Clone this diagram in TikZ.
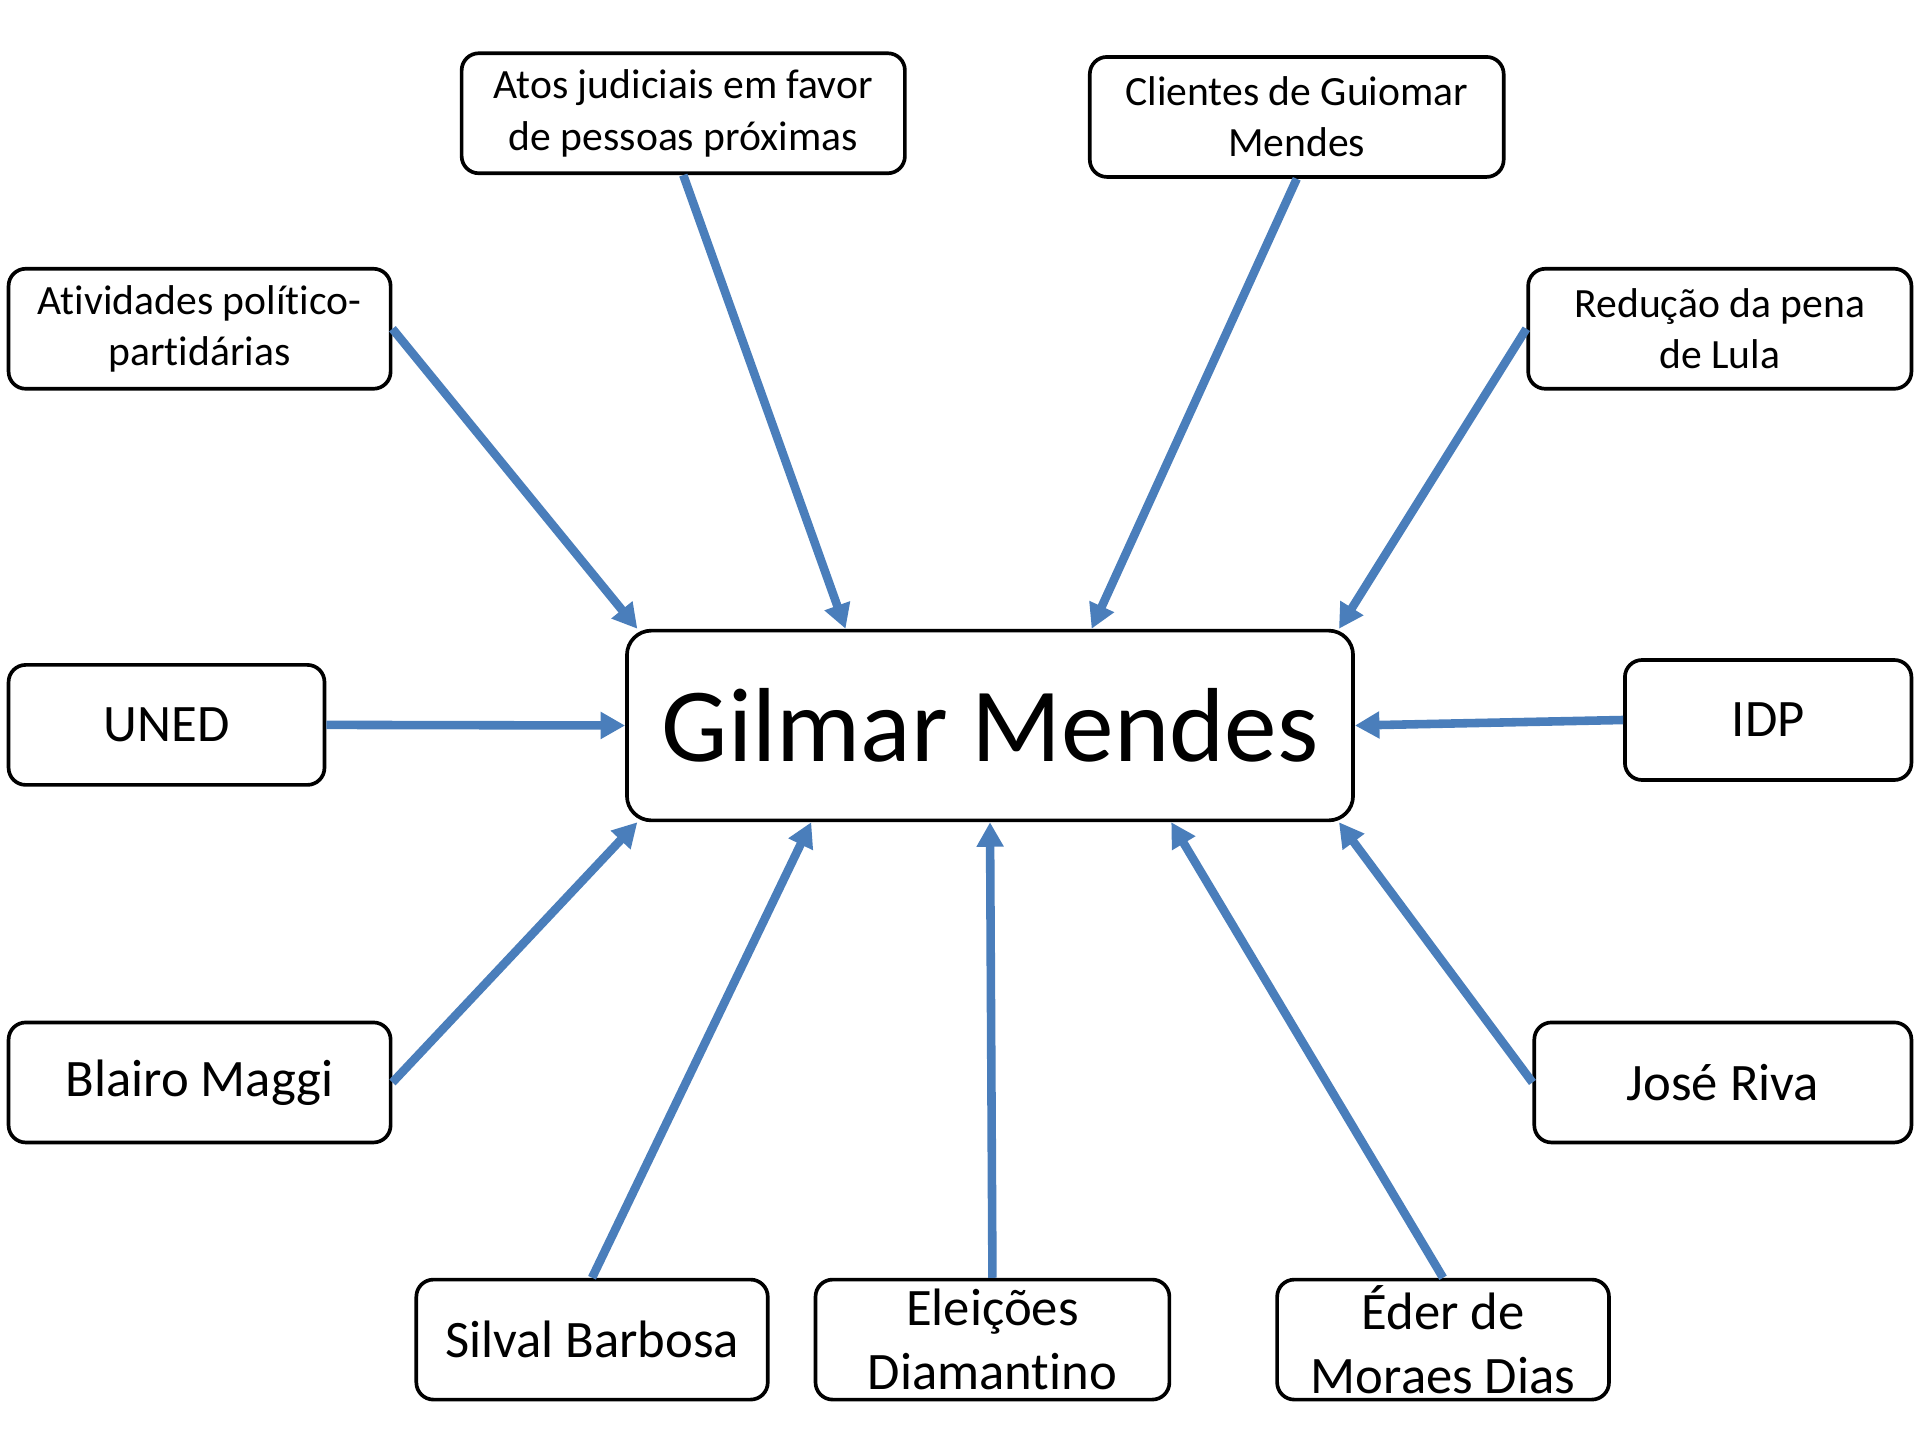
\documentclass[tikz,border=0pt]{standalone}
\usepackage{fontspec}
\setmainfont[Ligatures=NoCommon]{Carlito}
\usetikzlibrary{arrows.meta}
\definecolor{linkblue}{RGB}{74,126,187}
\begin{document}
\begin{tikzpicture}[x=0.5pt,y=-0.5pt,line join=round,
	box/.style={draw,line width=1.5pt,rounded corners=7pt,align=center,inner sep=2pt,minimum height=49pt,font=\fontsize{17}{21}\selectfont},
	bigbox/.style={box,font=\fontsize{21.5}{26}\selectfont},
	link/.style={draw=linkblue,line width=3.5pt,-{Triangle[length=10pt,width=10.5pt]}}]
	\useasboundingbox (0,0) rectangle (1568,1176);
	\node[box,minimum width=181pt] (atos) at (558,92.5) {Atos judiciais em favor\\de pessoas próximas};
	\node[box,minimum width=169pt] (clientes) at (1059,95.5) {Clientes de Guiomar\\Mendes};
	\node[box,minimum width=156pt] (ativ) at (163,268.5) {Atividades político-\\partidárias};
	\node[box,minimum width=156.5pt] (reducao) at (1404.5,268.5) {Redução da pena\\de Lula};
	\node[bigbox,minimum width=129pt] (uned) at (136,592) {UNED};
	\node[bigbox,minimum width=117pt] (idp) at (1444,588) {IDP};
	\node[bigbox,minimum width=156pt] (blairo) at (163,884) {Blairo Maggi};
	\node[bigbox,minimum width=154pt] (jose) at (1407,884) {José Riva};
	\node[bigbox,minimum width=143.5pt] (silval) at (483.5,1094) {Silval Barbosa};
	\node[bigbox,minimum width=144.5pt] (eleicoes) at (810.5,1094) {Eleições\\Diamantino};
	\node[bigbox,minimum width=135.5pt] (eder) at (1178.5,1094) {Éder de\\Moraes Dias};
	\node[box,minimum width=296.5pt,minimum height=77.5pt,rounded corners=10pt,font=\fontsize{43}{52}\selectfont] (gilmar) at (808.5,592.5) {Gilmar Mendes};
	\draw[link] (ativ.east) -- ([xshift=5pt]gilmar.north west);
	\draw[link] (atos.south) -- ([xshift=90pt]gilmar.north west);
	\draw[link] (clientes.south) -- ([xshift=190.5pt]gilmar.north west);
	\draw[link] (reducao.west) -- ([xshift=-6.5pt]gilmar.north east);
	\draw[link] (uned.east) -- (gilmar.west);
	\draw[link] (idp.west) -- (gilmar.east);
	\draw[link] (blairo.east) -- ([xshift=5pt]gilmar.south west);
	\draw[link] (silval.north) -- ([xshift=76pt]gilmar.south west);
	\draw[link] (eleicoes.north) -- (gilmar.south);
	\draw[link] (eder.north) -- ([xshift=223pt]gilmar.south west);
	\draw[link] (jose.west) -- ([xshift=-6.5pt]gilmar.south east);
\end{tikzpicture}
\end{document}
